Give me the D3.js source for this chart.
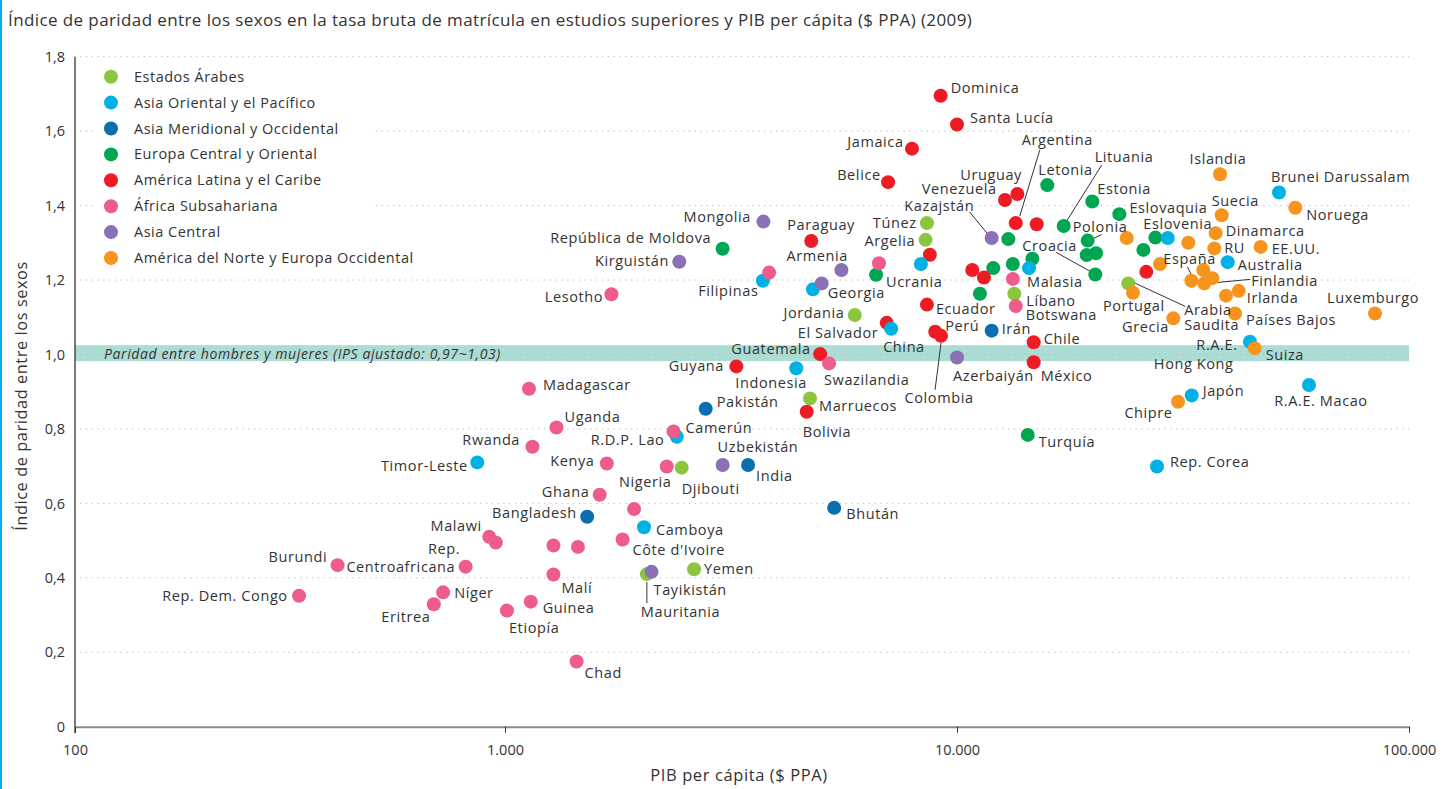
<!DOCTYPE html>
<html><head><meta charset="utf-8">
<script src="https://cdn.jsdelivr.net/npm/d3@7"></script>
<style>
html,body{margin:0;padding:0;background:#fff;}
svg{display:block;font-family:"Open Sans",sans-serif;}
</style></head><body>
<svg id="chart" width="1448" height="789"></svg>
<script>
// ---------- DATA ----------
const chartTitle = "Índice de paridad entre los sexos en la tasa bruta de matrícula en estudios superiores y PIB per cápita ($ PPA) (2009)";
const xTitle = "PIB per cápita ($ PPA)";
const yTitle = "Índice de paridad entre los sexos";
const bandText = "Paridad entre hombres y mujeres (IPS ajustado: 0,97~1,03)";
const bandRange = [0.982, 1.025];

const xTicks = [100, 1000, 10000, 100000];
const xTickLabels = ["100", "1.000", "10.000", "100.000"];
const yTicks = [0, 0.2, 0.4, 0.6, 0.8, 1.0, 1.2, 1.4, 1.6, 1.8];
const yTickLabels = ["0", "0,2", "0,4", "0,6", "0,8", "1,0", "1,2", "1,4", "1,6", "1,8"];

const regionNames = ["Estados Árabes", "Asia Oriental y el Pacífico", "Asia Meridional y Occidental",
  "Europa Central y Oriental", "América Latina y el Caribe", "África Subsahariana",
  "Asia Central", "América del Norte y Europa Occidental"];
const regionColors = ["#8cc63f", "#00b1e6", "#0b6fae", "#00a651", "#ed1c24", "#ee5c8b", "#8a70b5", "#f7941d"];

// [country, GDP per capita PPP, GPI]  (null = unlabelled)
const arabStates = [
  ["Túnez", 8580, 1.353], ["Argelia", 8520, 1.308], ["Jordania", 5940, 1.106],
  ["Líbano", 13390, 1.163], ["Arabia Saudita", 23930, 1.191], ["Marruecos", 4730, 0.882],
  ["Djibouti", 2460, 0.696], ["Mauritania", 2060, 0.410], ["Yemen", 2620, 0.423]
];
const eastAsiaPacific = [
  [null, 8320, 1.243], ["Filipinas", 3720, 1.198], [null, 4800, 1.175], ["China", 7150, 1.069],
  ["Indonesia", 4410, 0.963], ["R.D.P. Lao", 2400, 0.779], ["Timor-Leste", 862, 0.710],
  ["Camboya", 2030, 0.536], ["Malasia", 14430, 1.232], [null, 29260, 1.313],
  ["Brunei Darussalam", 51570, 1.435], ["Australia", 39710, 1.248], ["R.A.E. Hong Kong", 44480, 1.034],
  ["Japón", 33060, 0.890], ["R.A.E. Macao", 60080, 0.918], ["Rep. Corea", 27700, 0.699]
];
const southWestAsia = [
  ["Pakistán", 2780, 0.854], ["India", 3450, 0.703], ["Bhután", 5350, 0.588],
  ["Bangladesh", 1520, 0.564], ["Irán", 11930, 1.064]
];
const centralEastEurope = [
  ["República de Moldova", 3030, 1.284], ["Ucrania", 6620, 1.214], ["Letonia", 15840, 1.455],
  ["Lituania", 17220, 1.345], ["Estonia", 19920, 1.411], [null, 12990, 1.310],
  ["Polonia", 19460, 1.306], ["Croacia", 20230, 1.215], [null, 19360, 1.267], [null, 20300, 1.272],
  ["Eslovaquia", 22870, 1.377], ["Eslovenia", 27470, 1.314], [null, 25840, 1.281],
  [null, 14680, 1.257], [null, 13290, 1.243], [null, 12030, 1.232], [null, 11240, 1.163],
  ["Turquía", 14340, 0.784]
];
const latinAmerica = [
  ["Dominica", 9200, 1.695], ["Santa Lucía", 10000, 1.618], ["Jamaica", 7950, 1.553],
  ["Belice", 7040, 1.463], ["Paraguay", 4760, 1.305], [null, 8710, 1.268],
  ["El Salvador", 6990, 1.085], ["Ecuador", 8580, 1.134], ["Perú", 8950, 1.061],
  ["Colombia", 9220, 1.050], ["Guatemala", 4980, 1.001], ["Guyana", 3250, 0.968],
  ["Bolivia", 4650, 0.846], ["Argentina", 13490, 1.353], [null, 15010, 1.350],
  ["Uruguay", 13600, 1.431], ["Venezuela", 12770, 1.415], [null, 26230, 1.222],
  [null, 10810, 1.227], [null, 11470, 1.207], ["Chile", 14780, 1.033], ["México", 14780, 0.979]
];
const subSaharanAfrica = [
  ["Lesotho", 1720, 1.162], [null, 6720, 1.245], [null, 3840, 1.220], ["Swazilandia", 5210, 0.976],
  ["Madagascar", 1130, 0.908], ["Uganda", 1300, 0.804], ["Camerún", 2360, 0.793],
  ["Rwanda", 1150, 0.752], ["Kenya", 1680, 0.707], ["Nigeria", 2280, 0.699], ["Ghana", 1620, 0.623],
  [null, 1930, 0.585], ["Malawi", 919, 0.510], [null, 952, 0.495], [null, 1280, 0.487],
  [null, 1450, 0.483], ["Côte d'Ivoire", 1820, 0.503], ["Malí", 1280, 0.409], ["Guinea", 1140, 0.336],
  ["Etiopía", 1010, 0.312], ["Chad", 1440, 0.175], ["Burundi", 408, 0.434],
  ["Rep. Centroafricana", 810, 0.430], ["Rep. Dem. Congo", 332, 0.352], ["Níger", 718, 0.361],
  ["Eritrea", 683, 0.329], [null, 13290, 1.203], ["Botswana", 13490, 1.130]
];
const centralAsia = [
  ["Mongolia", 3730, 1.357], ["Kirguistán", 2430, 1.249], ["Armenia", 5550, 1.227],
  ["Georgia", 5020, 1.191], ["Azerbaiyán", 10000, 0.992], ["Uzbekistán", 3030, 0.703],
  ["Tayikistán", 2110, 0.416], ["Kazajstán", 11930, 1.313]
];
const northAmericaWesternEurope = [
  ["Islandia", 38190, 1.484], ["Noruega", 56030, 1.394], ["Suecia", 38510, 1.374],
  ["Dinamarca", 37350, 1.326], ["RU", 37090, 1.285], ["EE.UU.", 46970, 1.289],
  [null, 23740, 1.313], [null, 32490, 1.300], [null, 28130, 1.243], [null, 35060, 1.227],
  [null, 36710, 1.205], ["España", 33000, 1.198], ["Finlandia", 35240, 1.191],
  ["Irlanda", 42010, 1.171], [null, 39370, 1.158], ["Portugal", 24510, 1.166],
  ["Grecia", 30100, 1.097], ["Países Bajos", 41210, 1.110], ["Luxemburgo", 84100, 1.110],
  ["Suiza", 45560, 1.017], ["Chipre", 30830, 0.873]
];

// ---------- LAYOUT (label offsets relative to each point, in px) ----------
const labelLayout = {
  "Dominica": [[10, -8, "start"]], "Santa Lucía": [[13, -7, "start"]], "Jamaica": [[-9, -7, "end"]],
  "Belice": [[-8, -7, "end"]], "Mongolia": [[-13, -5, "end"]], "República de Moldova": [[-12, -11, "end"]],
  "Kirguistán": [[-11, -1, "end"]], "Lesotho": [[-9, 3, "end"]], "Paraguay": [[-24, -16, "start"]],
  "Túnez": [[-11, 0, "end"]], "Argelia": [[-11, 1, "end"]], "Armenia": [[6, -14, "end"]],
  "Filipinas": [[-5, 10, "end"]], "Georgia": [[6, 10, "start"]], "Ucrania": [[10, 7, "start"]],
  "Jordania": [[-11, -2, "end"]], "El Salvador": [[-9, 10, "end"]], "China": [[-8, 18, "start"]],
  "Ecuador": [[9, 4, "start"]], "Perú": [[10, -6, "start"]], "Colombia": [[-2, 62, "middle"]],
  "Azerbaiyán": [[-4, 18, "start"]], "Guatemala": [[-10, -5, "end"]], "Swazilandia": [[-5, 17, "start"]],
  "Guyana": [[-13, 0, "end"]], "Indonesia": [[10, 15, "end"]], "Madagascar": [[14, -4, "start"]],
  "Pakistán": [[11, -7, "start"]], "Marruecos": [[9, 8, "start"]], "Bolivia": [[-4, 20, "start"]],
  "Uganda": [[8, -11, "start"]], "Camerún": [[12, -4, "start"]], "R.D.P. Lao": [[-13, 3, "end"]],
  "Rwanda": [[-13, -7, "end"]], "Timor-Leste": [[-10, 4, "end"]], "Kenya": [[-13, -3, "end"]],
  "Nigeria": [[4, 15, "end"]], "Djibouti": [[0, 21, "start"]], "Uzbekistán": [[-5, -18, "start"]],
  "India": [[8, 11, "start"]], "Ghana": [[-11, -3, "end"]], "Bhután": [[12, 6, "start"]],
  "Bangladesh": [[-11, -4, "end"]], "Camboya": [[12, 3, "start"]], "Côte d'Ivoire": [[10, 10, "start"]],
  "Malawi": [[-8, -11, "end"]],
  "Rep. Centroafricana": [[-6, -18, "end", "Rep."], [-11, 0, "end", "Centroafricana"]],
  "Burundi": [[-11, -8, "end"]], "Rep. Dem. Congo": [[-12, 0, "end"]], "Níger": [[11, 1, "start"]],
  "Eritrea": [[-4, 13, "end"]], "Malí": [[8, 13, "start"]], "Guinea": [[12, 6, "start"]],
  "Etiopía": [[2, 17, "start"]], "Chad": [[8, 11, "start"]], "Yemen": [[10, 0, "start"]],
  "Tayikistán": [[2, 18, "start"]], "Mauritania": [[-6, 38, "start"]],
  "Argentina": [[6, -83, "start"]], "Uruguay": [[4, -19, "end"]], "Venezuela": [[-9, -11, "end"]],
  "Kazajstán": [[-18, -32, "end"]], "Letonia": [[-9, -15, "start"]], "Lituania": [[31, -69, "start"]],
  "Estonia": [[5, -13, "start"]], "Polonia": [[-15, -14, "start"]], "Croacia": [[-73, -29, "start"]],
  "Eslovaquia": [[10, -6, "start"]], "Eslovenia": [[-12, -14, "start"]], "Malasia": [[-2, 14, "start"]],
  "Líbano": [[12, 7, "start"]], "Botswana": [[10, 9, "start"]], "Irán": [[10, -2, "start"]],
  "Chile": [[10, -3, "start"]], "México": [[7, 14, "start"]], "Turquía": [[11, 7, "start"]],
  "Islandia": [[-2, -15, "middle"]], "Brunei Darussalam": [[-8, -16, "start"]], "Noruega": [[11, 7, "start"]],
  "Suecia": [[-10, -14, "start"]], "Dinamarca": [[10, -2, "start"]], "RU": [[10, 0, "start"]],
  "EE.UU.": [[11, 2, "start"]], "Australia": [[10, 3, "start"]], "España": [[-28, -22, "start"]],
  "Finlandia": [[47, -2, "start"]], "Irlanda": [[8, 7, "start"]],
  "Arabia Saudita": [[56, 27, "start", "Arabia"], [56, 42, "start", "Saudita"]],
  "Portugal": [[-30, 13, "start"]], "Grecia": [[-5, 9, "end"]], "Países Bajos": [[11, 6, "start"]],
  "Luxemburgo": [[-2, -16, "middle"]],
  "R.A.E. Hong Kong": [[-13, 3, "end", "R.A.E."], [-17, 22, "end", "Hong Kong"]],
  "Suiza": [[11, 7, "start"]], "Japón": [[11, -4, "start"]], "Chipre": [[-6, 11, "end"]],
  "R.A.E. Macao": [[12, 16, "middle"]], "Rep. Corea": [[13, -5, "start"]]
};
const leaderLines = {
  "Colombia": [0, 7, -6, 54], "Mauritania": [0, 8, 0, 29], "Argentina": [4, -7, 24, -73],
  "Kazajstán": [-22, -26, -4, -4], "Lituania": [38, -61, 3, -5], "Polonia": [14, -6, 3, -1],
  "Croacia": [-39, -22, -3, -2], "España": [-4, -14, 0, -6], "Finlandia": [46, -4, 3, 0],
  "Arabia Saudita": [5, -1, 57, 23]
};

// ---------- DRAW ----------
const svg = d3.select("#chart");
const textColor = "#333";
const ls = 0.6; // letter spacing

const x = d3.scaleLog().domain(xTicks).range([75, 505, 957, 1409]);
const y = d3.scaleLinear().domain([0, 1.8]).range([726.7, 56.7]);

// left border
svg.append("rect").attr("x", 0).attr("y", 0).attr("width", 2).attr("height", 789).attr("fill", "#00aeef");

// title
svg.append("text").attr("x", 8).attr("y", 26).attr("font-size", 17).attr("letter-spacing", 0.4)
  .attr("fill", textColor).text(chartTitle);

// parity band
svg.append("rect")
  .attr("x", x(xTicks[0])).attr("width", x(xTicks[3]) - x(xTicks[0]))
  .attr("y", y(bandRange[1])).attr("height", y(bandRange[0]) - y(bandRange[1]))
  .attr("fill", "#abddd4");

// gridlines
svg.append("g").selectAll("line").data(yTicks.filter(d => d > 0)).join("line")
  .attr("x1", 80).attr("x2", x(xTicks[3]))
  .attr("y1", d => y(d)).attr("y2", d => y(d))
  .attr("stroke", "#b8b8b8").attr("stroke-width", 1).attr("stroke-dasharray", "1.2,4.6");

// band text
svg.append("text").attr("x", 104).attr("y", y(1.0) + 4.5).attr("font-size", 14)
  .attr("letter-spacing", ls).attr("font-style", "italic").attr("fill", textColor).text(bandText);

// y axis
const yAxis = svg.append("g").attr("transform", "translate(75,0)")
  .call(d3.axisLeft(y).tickValues(yTicks).tickFormat((d, i) => yTickLabels[i]).tickSize(0).tickPadding(10));
yAxis.select(".domain").remove();
yAxis.selectAll("text").attr("font-size", 14.5).attr("fill", textColor).attr("font-family", "Open Sans");
svg.append("line").attr("x1", 75).attr("x2", 75).attr("y1", y(1.8)).attr("y2", y(0) + 6.5)
  .attr("stroke", "#222").attr("stroke-width", 1.2);

// x axis
const xAxis = svg.append("g").attr("transform", `translate(0,${y(0)})`)
  .call(d3.axisBottom(x).tickValues(xTicks).tickFormat((d, i) => xTickLabels[i])
    .tickSizeInner(6).tickSizeOuter(0).tickPadding(12));
xAxis.select(".domain").attr("stroke", "#8a8a8a").attr("stroke-width", 2);
xAxis.selectAll(".tick line").attr("stroke", "#333");
xAxis.selectAll("text").attr("font-size", 14.5).attr("fill", textColor).attr("font-family", "Open Sans");

// axis titles
svg.append("text").attr("transform", "translate(27,396) rotate(-90)").attr("text-anchor", "middle")
  .attr("font-size", 16.3).attr("letter-spacing", ls).attr("fill", textColor).text(yTitle);
svg.append("text").attr("x", 739).attr("y", 781).attr("text-anchor", "middle")
  .attr("font-size", 16.5).attr("letter-spacing", ls).attr("fill", textColor).text(xTitle);

// legend
const legend = svg.append("g");
legend.append("rect").attr("x", 95).attr("y", 63).attr("width", 278).attr("height", 207).attr("fill", "#fff");
const lg = legend.selectAll("g").data(regionNames).join("g")
  .attr("transform", (d, i) => `translate(111,${76.7 + i * 25.9})`);
lg.append("circle").attr("r", 7).attr("fill", (d, i) => regionColors[i]);
lg.append("text").attr("x", 23).attr("y", 5).attr("font-size", 14.5).attr("letter-spacing", 0.5)
  .attr("fill", textColor).text(d => d);

// points (drawing order)
const series = [
  [arabStates, 0], [centralEastEurope, 3], [latinAmerica, 4], [eastAsiaPacific, 1],
  [southWestAsia, 2], [subSaharanAfrica, 5], [centralAsia, 6], [northAmericaWesternEurope, 7]
];
const allPts = [];
series.forEach(([arr, ri]) => arr.forEach(([name, gdp, gpi]) => allPts.push({ name, gdp, gpi, ri })));

// leader lines
const labelled = allPts.filter(p => p.name && labelLayout[p.name]);
svg.append("g").selectAll("line").data(labelled.filter(p => leaderLines[p.name])).join("line")
  .attr("x1", p => x(p.gdp) + leaderLines[p.name][0]).attr("y1", p => y(p.gpi) + leaderLines[p.name][1])
  .attr("x2", p => x(p.gdp) + leaderLines[p.name][2]).attr("y2", p => y(p.gpi) + leaderLines[p.name][3])
  .attr("stroke", "#333").attr("stroke-width", 1);

svg.append("g").selectAll("circle").data(allPts).join("circle")
  .attr("cx", p => x(p.gdp)).attr("cy", p => y(p.gpi)).attr("r", 7)
  .attr("fill", p => regionColors[p.ri]);

// labels
const labelRows = [];
labelled.forEach(p => labelLayout[p.name].forEach(l => labelRows.push({ p, dx: l[0], dy: l[1], anchor: l[2], text: l[3] || p.name })));
svg.append("g").selectAll("text").data(labelRows).join("text")
  .attr("x", r => x(r.p.gdp) + r.dx + (r.anchor === "end" ? ls : 0)).attr("y", r => y(r.p.gpi) + r.dy)
  .attr("dy", "0.35em").attr("text-anchor", r => r.anchor)
  .attr("font-size", 14.5).attr("letter-spacing", ls).attr("fill", textColor).text(r => r.text);
</script>
</body></html>
